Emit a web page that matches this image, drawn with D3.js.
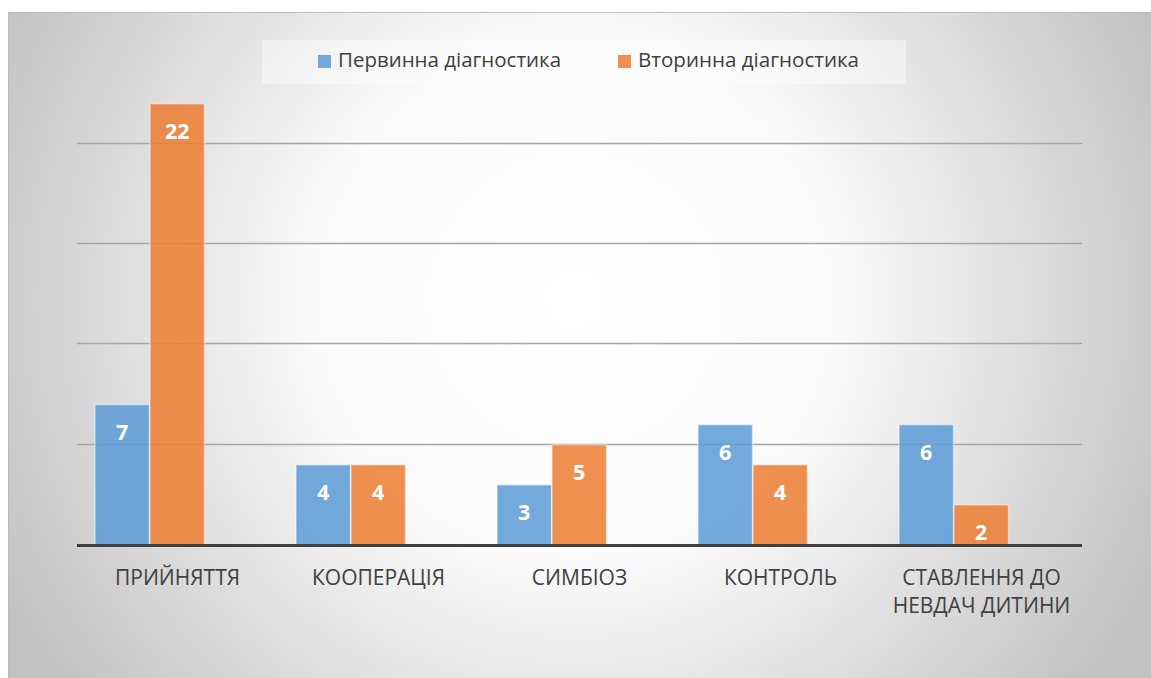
<!DOCTYPE html>
<html>
<head>
<meta charset="utf-8">
<script src="https://cdn.jsdelivr.net/npm/d3@7"></script>
<style>
  body { margin: 0; background: #fff; }
  text { font-family: "Open Sans", sans-serif; }
</style>
</head>
<body>
<div id="container"></div>
<script>
// дані діаграми
const categories = ["ПРИЙНЯТТЯ", "КООПЕРАЦІЯ", "СИМБІОЗ", "КОНТРОЛЬ", "СТАВЛЕННЯ ДО НЕВДАЧ ДИТИНИ"];
const seriesNames = ["Первинна діагностика", "Вторинна діагностика"];
const primary = [7, 4, 3, 6, 6];
const secondary = [22, 4, 5, 4, 2];
const yTicks = [0, 5, 10, 15, 20, 25];

const colors = ["#5b9bd5", "#ed7d31"];
const width = 1151, height = 678;

const svg = d3.create("svg")
    .attr("width", width)
    .attr("height", height);

// фон: радіальний градієнт
const defs = svg.append("defs");
const grad = defs.append("radialGradient")
    .attr("id", "bg")
    .attr("gradientUnits", "userSpaceOnUse")
    .attr("cx", 575).attr("cy", 300).attr("r", 640);
grad.append("stop").attr("offset", "0%").attr("stop-color", "#ffffff");
grad.append("stop").attr("offset", "40%").attr("stop-color", "#fbfbfb");
grad.append("stop").attr("offset", "100%").attr("stop-color", "#c2c2c2");

svg.append("rect")
    .attr("x", 8.5).attr("y", 12.5)
    .attr("width", 1150).attr("height", 670)
    .attr("fill", "url(#bg)")
    .attr("stroke", "#bcbcbc");

const x = d3.scaleBand()
    .domain(categories)
    .range([77, 1082]);

const y = d3.scaleLinear()
    .domain([0, 25])
    .range([545, 43.5]);

// сітка
svg.append("g")
    .selectAll("line")
    .data(yTicks.filter(d => d > 0 && d < 25))
    .join("line")
    .attr("x1", 77).attr("x2", 1082)
    .attr("y1", d => Math.round(y(d)) - 0.5)
    .attr("y2", d => Math.round(y(d)) - 0.5)
    .attr("stroke", "#a6a6a6")
    .attr("stroke-width", 1.3);

// легенда
const legend = svg.append("g");
legend.append("rect")
    .attr("x", 262).attr("y", 40)
    .attr("width", 644).attr("height", 44)
    .attr("fill", "#ffffff")
    .attr("fill-opacity", 0.4);
const legendX = [318, 618];
const legendLen = [223, 221];
seriesNames.forEach((name, i) => {
    legend.append("rect")
        .attr("x", legendX[i]).attr("y", 55)
        .attr("width", 13).attr("height", 13)
        .attr("fill", colors[i])
        .attr("fill-opacity", 0.85);
    legend.append("text")
        .attr("x", legendX[i] + 20).attr("y", 67)
        .attr("font-size", 20.5)
        .attr("fill", "#404040")
        .attr("textLength", legendLen[i])
        .attr("lengthAdjust", "spacingAndGlyphs")
        .text(name);
});

// стовпчики
const barW = 54.5;
const offset = 18;
const series = [primary, secondary];
series.forEach((vals, s) => {
    const g = svg.append("g");
    g.selectAll("rect")
        .data(vals)
        .join("rect")
        .attr("x", (d, i) => x(categories[i]) + offset + s * (barW + 0.5))
        .attr("y", d => y(d))
        .attr("width", barW)
        .attr("height", d => y(0) - y(d))
        .attr("fill", colors[s])
        .attr("fill-opacity", 0.85)
        .attr("stroke", "#ffffff")
        .attr("stroke-opacity", 0.45)
        .attr("stroke-width", 1.5);
    g.selectAll("text")
        .data(vals)
        .join("text")
        .attr("x", (d, i) => x(categories[i]) + offset + s * (barW + 0.5) + barW / 2)
        .attr("y", d => y(d) + 35)
        .attr("text-anchor", "middle")
        .attr("font-size", 21.5)
        .attr("font-weight", "bold")
        .attr("fill", "#ffffff")
        .text(d => d);
});

// базова лінія
svg.append("line")
    .attr("x1", 77).attr("x2", 1082)
    .attr("y1", 545.5).attr("y2", 545.5)
    .attr("stroke", "#404040")
    .attr("stroke-width", 3);

// підписи категорій
const wrapped = {"СТАВЛЕННЯ ДО НЕВДАЧ ДИТИНИ": ["СТАВЛЕННЯ ДО", "НЕВДАЧ ДИТИНИ"]};
const labels = svg.append("g")
    .selectAll("text")
    .data(categories)
    .join("text")
    .attr("x", d => x(d) + x.bandwidth() / 2)
    .attr("y", 584.5)
    .attr("text-anchor", "middle")
    .attr("font-size", 21)
    .attr("fill", "#404040");
labels.each(function(d) {
    const lines = wrapped[d] || [d];
    d3.select(this).selectAll("tspan")
        .data(lines)
        .join("tspan")
        .attr("x", x(d) + x.bandwidth() / 2)
        .attr("dy", (l, i) => i === 0 ? 0 : 28.5)
        .text(l => l);
});

d3.select("#container").node().append(svg.node());
</script>
</body>
</html>
